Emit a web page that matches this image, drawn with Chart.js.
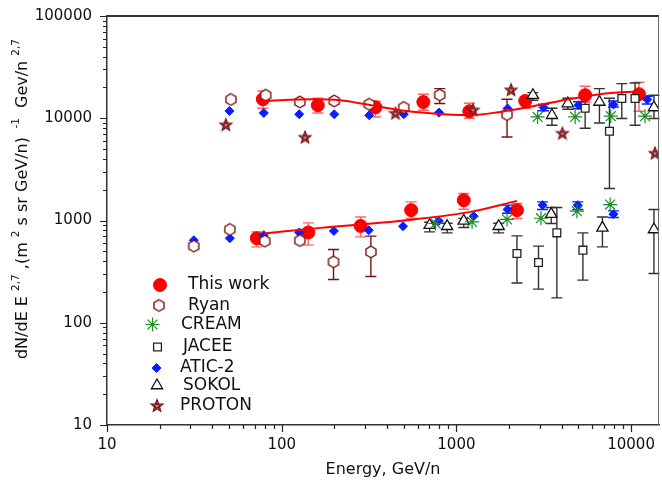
<!DOCTYPE html>
<html>
<head>
<meta charset="utf-8">
<script src="https://cdn.jsdelivr.net/npm/chart.js@4.4.0/dist/chart.umd.min.js"></script>
<style>
  body { margin: 0; background: #fff; }
  canvas { display: block; }
</style>
</head>
<body>
<canvas id="myChart" width="662" height="488"></canvas>
<script>
// ---- data (energy GeV/n, flux) ----
const thisWorkE  = [78, 161, 344, 647, 1186, 2478, 5460, 11100, 72, 142, 283, 551, 1102, 2222];
const thisWorkF  = [15350, 13400, 12800, 14400, 11700, 14750, 16800, 17200, 671, 764, 885, 1262, 1578, 1262];
const thisWorkHi = [18500, 15700, 14660, 17180, 14030, 16150, 20550, 22500, 774, 948, 1083, 1521, 1836, 1466];
const thisWorkLo = [12540, 11270, 10300, 11970, 10000, 12540, 14320, 11700, 552, 574, 692, 1047, 1288, 1047];

const ryanE  = [51.2, 81, 127, 200, 317, 500, 803, 1950, 31.4, 50.5, 80, 127, 198, 324];
const ryanF  = [15270, 16800, 14420, 14750, 13700, 12740, 16900, 10870, 561, 817, 628, 637, 394, 493];
const ryanHi = [null, null, null, null, null, null, 19500, 15350, null, null, null, null, 521, 703];
const ryanLo = [null, null, null, null, null, null, 13930, 6560, null, null, null, null, 265, 283];

const creamE = [2919, 4786, 7650, 12020, 759, 1230, 1950, 3048, 4898, 7590];
const creamF = [10300, 10300, 10470, 10470, 935, 969, 1024, 1052, 1233, 1432];

const jaceeE  = [5460, 7520, 8850, 10540, 2222, 2952, 3760, 5300];
const jaceeF  = [12540, 7460, 15600, 15600, 475, 388, 757, 513];
const jaceeHi = [17540, 15700, 21800, 22100, 708, 561, 1340, 757];
const jaceeLo = [7980, 2055, 9930, 8550, 245, 213, 175, 261];

const aticE  = [50.2, 79, 126, 200, 317, 500, 796, 1963, 3155, 5000, 7925, 12390,
                31.4, 50.5, 79, 126, 199, 315, 495, 793, 1256, 1963, 3113, 4955, 7925];
const aticF  = [11780, 11270, 10940, 10940, 10690, 10940, 11370, 12450, 12740, 13400, 13600, 15240,
                641, 671, 718, 764, 791, 803, 879, 991, 1102, 1282, 1413, 1413, 1153];
const aticHi = [null, null, null, null, null, null, null, null, 13700, 14490, 14750, 16400,
                null, null, null, null, null, null, null, null, null, 1413, 1521, 1521, 1242];
const aticLo = [null, null, null, null, null, null, null, null, 11830, 12390, 12880, 13800,
                null, null, null, null, null, null, null, null, null, 1178, 1280, 1280, 1069];

const sokolE  = [2742, 3525, 4345, 6590, 13520, 703, 885, 1102, 1746, 3490, 6855, 13520];
const sokolF  = [16800, 10700, 13930, 14420, 12740, 900, 879, 991, 879, 1153, 847, 817];
const sokolHi = [17800, 12540, 15700, 19500, 16800, 960, 940, 1050, 940, 1340, 1083, 1282];
const sokolLo = [15000, 8550, 12230, 9000, 9930, 774, 757, 855, 757, 935, 552, 303];

const protonE = [47.9, 136, 448, 1245, 2055, 4045, 13710];
const protonF = [8560, 6470, 11110, 11970, 18800, 7080, 4520];

// red fit curves
const fitUpperE = [78, 152, 217, 310, 479, 739, 1156, 1783, 2754, 4305, 6650, 11250];
const fitUpperF = [14750, 15350, 15000, 13600, 11970, 11100, 10700, 11530, 13100, 15240, 17180, 18370];
const fitLowerE = [79, 167, 570, 1202, 2222];
const fitLowerF = [746, 847, 1024, 1214, 1556];

// axes
const xTicks = [10, 20, 30, 40, 50, 60, 70, 80, 90, 100, 200, 300, 400, 500, 600, 700, 800, 900,
                1000, 2000, 3000, 4000, 5000, 6000, 7000, 8000, 9000, 10000];
const xTickLabels = [10, 100, 1000, 10000];
const yTicks = [10, 20, 30, 40, 50, 60, 70, 80, 90, 100, 200, 300, 400, 500, 600, 700, 800, 900,
                1000, 2000, 3000, 4000, 5000, 6000, 7000, 8000, 9000, 10000, 20000, 30000, 40000,
                50000, 60000, 70000, 80000, 90000, 100000];
const yTickLabels = [10, 100, 1000, 10000, 100000];

const xTitle = 'Energy, GeV/n';
// [text, superscript?]
const yTitleParts = [['dN/dE E ', 0], ['2,7', 1], [' ,(m ', 0], ['2', 1], [' s sr GeV/n) ', 0],
                     [' -1', 1], ['  Gev/n ', 0], ['2,7', 1]];

const FONT = 'DejaVu Sans';

function pts(xs, ys) {
   return xs.map((v, i) => ({x: v, y: ys[i]}));
}

// marker pictures the library does not have
function makeMarker(size, draw) {
   const c = document.createElement('canvas');
   c.width = size; c.height = size;
   draw(c.getContext('2d'), size / 2);
   return c;
}

const hexMarker = makeMarker(16, (g, m) => {
   g.beginPath();
   for (let i = 0; i < 6; i++) {
      const a = Math.PI / 2 + i * Math.PI / 3;
      const px = m + 5.8 * Math.cos(a), py = m - 5.8 * Math.sin(a);
      i ? g.lineTo(px, py) : g.moveTo(px, py);
   }
   g.closePath();
   g.fillStyle = '#fff';
   g.fill();
   g.strokeStyle = '#7a1212';
   g.lineWidth = 1.4;
   g.stroke();
});

const starMarker = makeMarker(16, (g, m) => {
   const star = (ro, ri) => {
      g.beginPath();
      for (let i = 0; i < 10; i++) {
         const r = i % 2 ? ri : ro;
         const a = -Math.PI / 2 + i * Math.PI / 5;
         const px = m + r * Math.cos(a), py = m + r * Math.sin(a);
         i ? g.lineTo(px, py) : g.moveTo(px, py);
      }
      g.closePath();
   };
   star(6.2, 2.7);
   g.fillStyle = '#c9a0a0';
   g.fill();
   g.strokeStyle = '#7a1010';
   g.lineWidth = 1.3;
   g.stroke();
   star(3, 1.3);
   g.lineWidth = 1;
   g.stroke();
});

// vertical error bars, drawn under the markers
const errorBars = {
   id: 'errorBars',
   beforeDatasetsDraw(chart) {
      const {ctx, scales: {x, y}} = chart;
      chart.data.datasets.slice().reverse().forEach(ds => {
         if (!ds.errHi) return;
         ctx.save();
         ctx.strokeStyle = ds.errColor;
         ctx.lineWidth = 1.4;
         ds.data.forEach((p, i) => {
            if (ds.errHi[i] == null) return;
            const px = x.getPixelForValue(p.x);
            const top = y.getPixelForValue(ds.errHi[i]);
            const bot = y.getPixelForValue(ds.errLo[i]);
            ctx.beginPath();
            ctx.moveTo(px, top); ctx.lineTo(px, bot);
            ctx.moveTo(px - 5.5, top); ctx.lineTo(px + 5.5, top);
            ctx.moveTo(px - 5.5, bot); ctx.lineTo(px + 5.5, bot);
            ctx.stroke();
         });
         ctx.restore();
      });
   }
};

// frame, tick marks, titles and the legend box
const decorations = {
   id: 'decorations',
   afterDraw(chart) {
      const {ctx, chartArea: a, scales: {x, y}} = chart;
      ctx.save();
      // top and right frame lines
      ctx.strokeStyle = '#333';
      ctx.lineWidth = 2;
      ctx.beginPath();
      ctx.moveTo(a.left, a.top); ctx.lineTo(a.right, a.top);
      ctx.stroke();
      ctx.strokeStyle = '#666';
      ctx.lineWidth = 1;
      ctx.beginPath();
      ctx.moveTo(a.right - 0.5, a.top); ctx.lineTo(a.right - 0.5, a.bottom);
      ctx.stroke();

      // ticks, long ones at the decades
      ctx.strokeStyle = '#222';
      ctx.lineWidth = 1.2;
      ctx.beginPath();
      xTicks.forEach(v => {
         const px = Math.round(x.getPixelForValue(v)) + 0.5;
         const len = xTickLabels.includes(v) ? 7 : 4;
         ctx.moveTo(px, a.bottom); ctx.lineTo(px, a.bottom + len);
      });
      yTicks.forEach(v => {
         const py = Math.round(y.getPixelForValue(v)) + 0.5;
         const len = yTickLabels.includes(v) ? 7 : 4;
         ctx.moveTo(a.left, py); ctx.lineTo(a.left - len, py);
      });
      ctx.stroke();

      ctx.fillStyle = '#111';
      ctx.textBaseline = 'middle';

      // x title
      ctx.font = `16px "${FONT}"`;
      ctx.textAlign = 'center';
      ctx.fillText(xTitle, 383, 470);

      // y title with superscripts
      ctx.save();
      ctx.translate(23, 199);
      ctx.rotate(-Math.PI / 2);
      ctx.textAlign = 'left';
      const fontOf = sup => sup ? `10.5px "${FONT}"` : `16px "${FONT}"`;
      let total = 0;
      yTitleParts.forEach(([t, sup]) => { ctx.font = fontOf(sup); total += ctx.measureText(t).width; });
      let cx = -total / 2;
      yTitleParts.forEach(([t, sup]) => {
         ctx.font = fontOf(sup);
         ctx.fillText(t, cx, sup ? -7 : 0);
         cx += ctx.measureText(t).width;
      });
      ctx.restore();

      // legend
      const legend = [
         [8, 160, 285, 188, 'This work'],
         [6, 159, 305.5, 188, 'Ryan'],
         [3, 152.5, 324.5, 181, 'CREAM'],
         [4, 157.5, 347, 183, 'JACEE'],
         [7, 156.5, 368, 180, 'ATIC-2'],
         [5, 157, 385.5, 183, 'SOKOL'],
         [2, 157, 406, 180, 'PROTON']
      ];
      ctx.font = `17px "${FONT}"`;
      ctx.textAlign = 'left';
      legend.forEach(([di, mx, my, tx, label]) => {
         const ds = chart.data.datasets[di];
         ctx.save();
         ctx.fillStyle = ds.backgroundColor;
         ctx.strokeStyle = ds.borderColor;
         ctx.lineWidth = ds.borderWidth;
         Chart.helpers.drawPoint(ctx, {pointStyle: ds.pointStyle, radius: ds.pointRadius, rotation: 0, borderWidth: ds.borderWidth}, mx, my);
         ctx.restore();
         ctx.fillStyle = '#111';
         ctx.fillText(label, tx, my);
      });
      ctx.restore();
   }
};

const ctx = document.getElementById('myChart').getContext('2d');

const chart = new Chart(ctx, {
   type: 'scatter',
   data: {
      datasets: [
         {label: 'fit high', data: pts(fitUpperE, fitUpperF), showLine: true, pointRadius: 0,
          borderColor: '#ff0000', borderWidth: 2, tension: 0.4, cubicInterpolationMode: 'monotone', order: 0},
         {label: 'fit low', data: pts(fitLowerE, fitLowerF), showLine: true, pointRadius: 0,
          borderColor: '#ff0000', borderWidth: 2, tension: 0.4, cubicInterpolationMode: 'monotone', order: 0},
         {label: 'PROTON', data: pts(protonE, protonF), pointStyle: starMarker, pointRadius: 6,
          backgroundColor: '#c9a0a0', borderColor: '#7a1010', borderWidth: 1, order: 1},
         {label: 'CREAM', data: pts(creamE, creamF), pointStyle: 'star', pointRadius: 7,
          backgroundColor: '#1e8c1e', borderColor: '#1e8c1e', borderWidth: 1.2, order: 2},
         {label: 'JACEE', data: pts(jaceeE, jaceeF), pointStyle: 'rect', pointRadius: 5.5,
          backgroundColor: '#fff', borderColor: '#222', borderWidth: 1.3, order: 3,
          errHi: jaceeHi, errLo: jaceeLo, errColor: '#333'},
         {label: 'SOKOL', data: pts(sokolE, sokolF), pointStyle: 'triangle', pointRadius: 6.5,
          backgroundColor: '#fff', borderColor: '#111', borderWidth: 1.3, order: 4,
          errHi: sokolHi, errLo: sokolLo, errColor: '#333'},
         {label: 'Ryan', data: pts(ryanE, ryanF), pointStyle: hexMarker, pointRadius: 6,
          backgroundColor: '#fff', borderColor: '#7a1212', borderWidth: 1.2, order: 5,
          errHi: ryanHi, errLo: ryanLo, errColor: '#7a1212'},
         {label: 'ATIC-2', data: pts(aticE, aticF), pointStyle: 'rectRot', pointRadius: 4.5,
          backgroundColor: '#0a1eff', borderColor: '#0a1eff', borderWidth: 1, order: 6,
          errHi: aticHi, errLo: aticLo, errColor: '#0a1eff'},
         {label: 'This work', data: pts(thisWorkE, thisWorkF), pointStyle: 'circle', pointRadius: 6.5,
          backgroundColor: '#ff0000', borderColor: '#ff0000', borderWidth: 1, order: 7,
          errHi: thisWorkHi, errLo: thisWorkLo, errColor: 'rgba(255,60,60,0.8)'}
      ]
   },
   options: {
      responsive: false,
      animation: false,
      devicePixelRatio: 1,
      layout: {autoPadding: false, padding: {top: 16, right: 3, left: 0, bottom: 0}},
      plugins: {legend: {display: false}, tooltip: {enabled: false}},
      scales: {
         x: {
            type: 'logarithmic',
            min: 10,
            max: 14450,
            afterBuildTicks: s => { s.ticks = xTicks.map(v => ({value: v})); },
            afterFit: s => { s.height = 63; s.paddingLeft = 0; s.paddingRight = 0; },
            grid: {display: false, drawTicks: false},
            border: {display: true, color: '#333', width: 1.5},
            ticks: {
               autoSkip: false, maxRotation: 0, padding: 11, color: '#111',
               font: {family: FONT, size: 15},
               callback: v => xTickLabels.includes(v) ? String(v) : ''
            }
         },
         y: {
            type: 'logarithmic',
            min: 10,
            max: 100000,
            afterBuildTicks: s => { s.ticks = yTicks.map(v => ({value: v})); },
            afterFit: s => { s.width = 107; s.paddingTop = 0; s.paddingBottom = 0; },
            grid: {display: false, drawTicks: false},
            border: {display: true, color: '#333', width: 1.5},
            ticks: {
               autoSkip: false, padding: 15, color: '#111',
               font: {family: FONT, size: 15},
               callback: v => yTickLabels.includes(v) ? String(v) : ''
            }
         }
      }
   },
   plugins: [errorBars, decorations]
});
</script>
</body>
</html>
